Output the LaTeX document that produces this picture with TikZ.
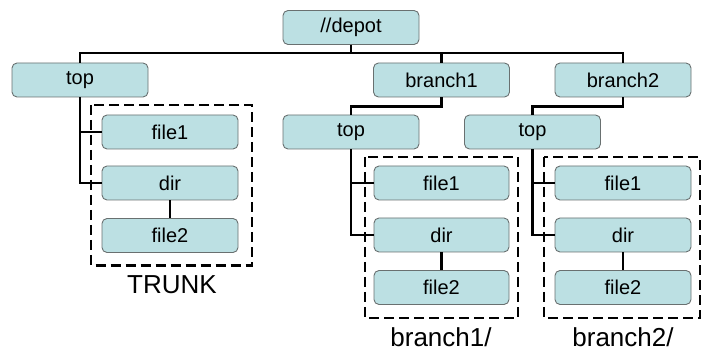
\documentclass[tikz,border=0pt]{standalone}
\usepackage{fontspec}
\setmainfont{Liberation Sans}
\usepackage{tikz}
\definecolor{boxfill}{RGB}{188,224,227}
\definecolor{boxline}{RGB}{105,112,112}
\tikzset{
  item/.style={draw=boxline, line width=0.9pt, fill=boxfill, rounded corners=5pt,
    minimum width=136pt, minimum height=34pt, inner sep=0pt,
    font=\fontsize{20}{23}\selectfont},
  link/.style={line width=2.4pt},
  dashbox/.style={line width=2.4pt, dash pattern=on 10pt off 5pt},
  caption/.style={anchor=base, font=\fontsize{26}{30}\selectfont}
}
\begin{document}
\begin{tikzpicture}[x=1pt, y=-1pt]
        \useasboundingbox (0, 0) rectangle (704, 352);
        % Depot and branches
        \node [item] (depot) at (351, 27.5) {//depot};
        \node [item] (top) at (80, 80) {top};
        \node [item] (branchA) at (441.5, 80) {branch1};
        \node [item] (branchB) at (623, 80) {branch2};
        \draw [link] (depot.south) -- ++(0, 8) -| (top.north);
        \draw [link] (depot.south) -- ++(0, 8) -| (branchA.north);
        \draw [link] (depot.south) -- ++(0, 8) -| (branchB.north);
        % Trunk
        \draw [dashbox] (91, 105) rectangle (252, 265.5);
        \node [item] (fileT1) at (170, 132) {file1};
        \node [item] (dirT) at (170, 183) {dir};
        \node [item] (fileT2) at (170, 235.5) {file2};
        \draw [link] (top.south) |- (dirT.west);
        \draw [link] (top.south |- fileT1.west) -- (fileT1.west);
        \draw [link] (dirT) -- (fileT2);
        \node [caption] (trunk) at (172, 294) {TRUNK};
        % Branch 1
        \node [item] (topA) at (351, 132) {top};
        \draw [link] (branchA.south) -- ++(0, 9) -| (topA.north);
        \draw [dashbox] (365, 157) rectangle (518, 318);
        \node [item, minimum width=135pt] (fileA1) at (441.5, 183) {file1};
        \node [item, minimum width=135pt] (dirA) at (441.5, 235) {dir};
        \node [item, minimum width=135pt] (fileA2) at (441.5, 287.5) {file2};
        \draw [link] (topA.south) |- (dirA.west);
        \draw [link] (topA.south |- fileA1.west) -- (fileA1.west);
        \draw [link] (dirA) -- (fileA2);
        \node [caption] (labelA) at (441, 347) {branch1/};
        % Branch 2
        \node [item] (topB) at (532.5, 132) {top};
        \draw [link] (branchB.south) -- ++(0, 9) -| (topB.north);
        \draw [dashbox] (544, 157) rectangle (700, 318);
        \node [item] (fileB1) at (623, 183) {file1};
        \node [item] (dirB) at (623, 235) {dir};
        \node [item] (fileB2) at (623, 287.5) {file2};
        \draw [link] (topB.south) |- (dirB.west);
        \draw [link] (topB.south |- fileB1.west) -- (fileB1.west);
        \draw [link] (dirB) -- (fileB2);
        \node [caption] (labelB) at (623, 347) {branch2/};
    \end{tikzpicture}
\end{document}
